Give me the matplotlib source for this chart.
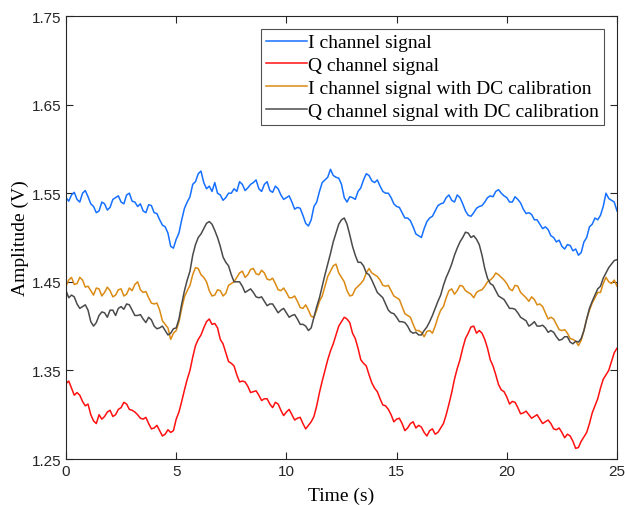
import numpy as np
import matplotlib
matplotlib.use("Agg")
import matplotlib.pyplot as plt

# Values every 0.25 s, plus in-between samples (every 0.125 s offset)
i_sig = [1.545, 1.548, 1.543, 1.550, 1.546, 1.535, 1.530, 1.538, 1.534, 1.545, 1.540, 1.548, 1.541, 1.535, 1.530, 1.537,
         1.528, 1.520, 1.512, 1.490, 1.498, 1.520, 1.540, 1.560, 1.572, 1.562, 1.558, 1.562, 1.548, 1.545, 1.550, 1.552,
         1.560, 1.556, 1.562, 1.555, 1.560, 1.553, 1.558, 1.548, 1.545, 1.540, 1.534, 1.525, 1.513, 1.535, 1.552, 1.565,
         1.577, 1.568, 1.560, 1.540, 1.545, 1.552, 1.565, 1.570, 1.562, 1.558, 1.550, 1.545, 1.535, 1.528, 1.522, 1.512,
         1.502, 1.510, 1.522, 1.530, 1.538, 1.545, 1.542, 1.548, 1.538, 1.525, 1.528, 1.535, 1.540, 1.547, 1.552, 1.550,
         1.545, 1.540, 1.543, 1.532, 1.528, 1.520, 1.515, 1.512, 1.502, 1.495, 1.490, 1.492, 1.485, 1.480, 1.495, 1.512,
         1.522, 1.525, 1.550, 1.542, 1.530]
i_sig_mid = [1.541, 1.551, 1.540, 1.553, 1.538, 1.528, 1.540, 1.531, 1.543, 1.547, 1.538, 1.550, 1.540, 1.538, 1.528,
             1.536, 1.527, 1.514, 1.505, 1.488, 1.505, 1.533, 1.546, 1.563, 1.575, 1.555, 1.552, 1.550, 1.542, 1.550,
             1.555, 1.563, 1.553, 1.560, 1.565, 1.552, 1.563, 1.551, 1.555, 1.543, 1.547, 1.532, 1.533, 1.516, 1.520,
             1.540, 1.562, 1.568, 1.570, 1.567, 1.545, 1.546, 1.543, 1.556, 1.572, 1.564, 1.565, 1.552, 1.550, 1.538,
             1.534, 1.522, 1.519, 1.504, 1.500, 1.518, 1.524, 1.536, 1.539, 1.548, 1.540, 1.545, 1.530, 1.524, 1.533,
             1.536, 1.545, 1.546, 1.554, 1.547, 1.540, 1.546, 1.539, 1.527, 1.526, 1.520, 1.510, 1.509, 1.500, 1.497,
             1.487, 1.491, 1.487, 1.483, 1.500, 1.515, 1.520, 1.535, 1.544, 1.540]

q_sig = [1.335, 1.330, 1.325, 1.315, 1.312, 1.293, 1.300, 1.298, 1.305, 1.300, 1.308, 1.312, 1.305, 1.300, 1.295, 1.290,
         1.285, 1.282, 1.278, 1.280, 1.295, 1.315, 1.340, 1.365, 1.385, 1.398, 1.408, 1.403, 1.385, 1.370, 1.358, 1.345,
         1.338, 1.332, 1.326, 1.322, 1.318, 1.312, 1.314, 1.305, 1.303, 1.300, 1.296, 1.290, 1.288, 1.298, 1.325, 1.350,
         1.372, 1.390, 1.405, 1.408, 1.392, 1.375, 1.358, 1.345, 1.330, 1.318, 1.310, 1.300, 1.295, 1.290, 1.285, 1.292,
         1.288, 1.280, 1.282, 1.278, 1.285, 1.300, 1.325, 1.352, 1.375, 1.392, 1.400, 1.395, 1.385, 1.362, 1.345, 1.328,
         1.320, 1.315, 1.308, 1.302, 1.300, 1.298, 1.295, 1.292, 1.290, 1.283, 1.280, 1.278, 1.270, 1.263, 1.275, 1.290,
         1.310, 1.330, 1.345, 1.360, 1.375]
q_sig_mid = [1.338, 1.322, 1.322, 1.310, 1.300, 1.290, 1.295, 1.303, 1.298, 1.306, 1.314, 1.306, 1.303, 1.296, 1.297,
             1.284, 1.288, 1.276, 1.283, 1.282, 1.303, 1.328, 1.350, 1.378, 1.390, 1.405, 1.402, 1.398, 1.380, 1.360,
             1.355, 1.337, 1.337, 1.325, 1.327, 1.316, 1.318, 1.308, 1.312, 1.299, 1.306, 1.294, 1.297, 1.284, 1.292,
             1.310, 1.338, 1.362, 1.380, 1.400, 1.410, 1.404, 1.386, 1.362, 1.355, 1.336, 1.326, 1.311, 1.306, 1.292,
             1.296, 1.282, 1.290, 1.285, 1.286, 1.276, 1.284, 1.280, 1.290, 1.312, 1.340, 1.362, 1.386, 1.399, 1.392,
             1.392, 1.375, 1.355, 1.334, 1.326, 1.312, 1.314, 1.301, 1.304, 1.296, 1.300, 1.290, 1.294, 1.284, 1.285,
             1.274, 1.276, 1.262, 1.270, 1.280, 1.302, 1.318, 1.340, 1.350, 1.370]

i_dc = [1.445, 1.455, 1.448, 1.452, 1.445, 1.435, 1.442, 1.438, 1.440, 1.435, 1.442, 1.436, 1.440, 1.450, 1.438, 1.432,
        1.425, 1.418, 1.402, 1.385, 1.395, 1.420, 1.440, 1.458, 1.465, 1.455, 1.440, 1.435, 1.440, 1.437, 1.448, 1.455,
        1.462, 1.458, 1.465, 1.458, 1.460, 1.452, 1.448, 1.440, 1.438, 1.432, 1.428, 1.420, 1.418, 1.410, 1.428, 1.445,
        1.462, 1.470, 1.455, 1.440, 1.435, 1.445, 1.452, 1.465, 1.458, 1.452, 1.445, 1.440, 1.432, 1.422, 1.412, 1.402,
        1.395, 1.388, 1.395, 1.400, 1.418, 1.432, 1.442, 1.440, 1.445, 1.438, 1.432, 1.440, 1.445, 1.452, 1.460, 1.455,
        1.448, 1.440, 1.445, 1.435, 1.428, 1.430, 1.425, 1.415, 1.410, 1.402, 1.395, 1.392, 1.385, 1.378, 1.395, 1.418,
        1.432, 1.438, 1.455, 1.448, 1.445]
i_dc_mid = [1.452, 1.447, 1.455, 1.444, 1.440, 1.443, 1.434, 1.444, 1.433, 1.441, 1.434, 1.443, 1.447, 1.441, 1.439,
            1.426, 1.426, 1.406, 1.398, 1.392, 1.405, 1.433, 1.446, 1.466, 1.458, 1.450, 1.434, 1.441, 1.434, 1.446,
            1.450, 1.460, 1.455, 1.464, 1.459, 1.463, 1.453, 1.454, 1.441, 1.443, 1.432, 1.434, 1.421, 1.424, 1.411,
            1.418, 1.434, 1.456, 1.468, 1.460, 1.450, 1.434, 1.442, 1.448, 1.460, 1.460, 1.456, 1.446, 1.446, 1.434,
            1.430, 1.414, 1.410, 1.395, 1.393, 1.394, 1.392, 1.410, 1.422, 1.440, 1.436, 1.446, 1.440, 1.436, 1.438,
            1.441, 1.450, 1.455, 1.458, 1.452, 1.442, 1.446, 1.438, 1.432, 1.433, 1.424, 1.422, 1.408, 1.408, 1.396,
            1.396, 1.386, 1.383, 1.384, 1.408, 1.426, 1.438, 1.448, 1.450, 1.452]

q_dc = [1.440, 1.435, 1.425, 1.422, 1.418, 1.400, 1.412, 1.415, 1.418, 1.412, 1.422, 1.425, 1.418, 1.412, 1.408, 1.410,
        1.400, 1.398, 1.395, 1.392, 1.398, 1.425, 1.452, 1.480, 1.500, 1.510, 1.518, 1.508, 1.490, 1.472, 1.458, 1.450,
        1.445, 1.440, 1.438, 1.432, 1.428, 1.425, 1.420, 1.418, 1.415, 1.412, 1.408, 1.402, 1.395, 1.410, 1.432, 1.458,
        1.482, 1.505, 1.520, 1.515, 1.490, 1.472, 1.468, 1.458, 1.445, 1.435, 1.425, 1.415, 1.410, 1.405, 1.400, 1.392,
        1.390, 1.395, 1.405, 1.420, 1.435, 1.455, 1.470, 1.488, 1.500, 1.505, 1.502, 1.492, 1.465, 1.448, 1.440, 1.432,
        1.425, 1.420, 1.415, 1.408, 1.400, 1.405, 1.400, 1.398, 1.395, 1.388, 1.385, 1.388, 1.380, 1.382, 1.395, 1.420,
        1.435, 1.445, 1.460, 1.470, 1.475]
q_dc_mid = [1.432, 1.433, 1.420, 1.424, 1.405, 1.404, 1.416, 1.410, 1.418, 1.420, 1.419, 1.424, 1.412, 1.413, 1.404,
            1.407, 1.397, 1.400, 1.390, 1.397, 1.408, 1.440, 1.462, 1.492, 1.504, 1.516, 1.515, 1.500, 1.478, 1.468,
            1.450, 1.450, 1.438, 1.442, 1.433, 1.433, 1.423, 1.425, 1.415, 1.420, 1.410, 1.413, 1.402, 1.400, 1.398,
            1.422, 1.445, 1.470, 1.495, 1.515, 1.522, 1.503, 1.480, 1.472, 1.460, 1.452, 1.438, 1.432, 1.418, 1.414,
            1.405, 1.404, 1.394, 1.393, 1.390, 1.399, 1.412, 1.428, 1.446, 1.462, 1.480, 1.495, 1.506, 1.500, 1.498,
            1.480, 1.454, 1.446, 1.434, 1.430, 1.420, 1.419, 1.410, 1.406, 1.402, 1.400, 1.401, 1.393, 1.393, 1.384,
            1.388, 1.382, 1.383, 1.386, 1.408, 1.428, 1.442, 1.454, 1.466, 1.474]

labels = ["I channel signal", "Q channel signal",
          "I channel signal with DC calibration", "Q channel signal with DC calibration"]
colors = ["#1670FF", "#FF1010", "#DB8A12", "#4A4A4A"]
xticks = [0, 5, 10, 15, 20, 25]
yticks = [1.25, 1.35, 1.45, 1.55, 1.65, 1.75]


def merge(coarse, mid):
    out = np.empty(len(coarse) + len(mid))
    out[0::2] = coarse
    out[1::2] = mid
    return out


series_all = [merge(i_sig, i_sig_mid), merge(q_sig, q_sig_mid), merge(i_dc, i_dc_mid), merge(q_dc, q_dc_mid)]
t = np.linspace(0, 25, len(series_all[0]))

fig = plt.figure(figsize=(6.25, 5.06), dpi=100)
ax = fig.add_axes([0.1056, 0.0909, 0.8816, 0.8755])
for series, c, lab in zip(series_all, colors, labels):
    ax.plot(t, series, color=c, lw=1.1, label=lab)

ax.set_xlim(0, 25)
ax.set_ylim(1.25, 1.75)
ax.set_xticks(xticks)
ax.set_yticks(yticks)
ax.set_xticklabels([str(v) for v in xticks], fontfamily="Liberation Sans", fontsize=11)
ax.set_yticklabels([f"{v:.2f}" for v in yticks], fontfamily="Liberation Sans", fontsize=11)
ax.tick_params(direction="in", top=True, right=True, length=5, color="#262626", labelcolor="#262626", width=0.8)
for s in ax.spines.values():
    s.set_color("#262626")
    s.set_linewidth(0.8)
ax.set_xlabel("Time (s)", fontfamily="Liberation Serif", fontsize=14, labelpad=6)
ax.set_ylabel("Amplitude (V)", fontfamily="Liberation Serif", fontsize=14, labelpad=2)

leg = ax.legend(loc="upper right", bbox_to_anchor=(0.976, 0.971), prop={"family": "Liberation Serif", "size": 14},
                frameon=True, fancybox=False, edgecolor="#262626", handlelength=2.1, handletextpad=0.05,
                borderpad=0.25, labelspacing=0.27, borderaxespad=0)
leg.get_frame().set_linewidth(0.8)

fig.savefig("out.png", dpi=100)
